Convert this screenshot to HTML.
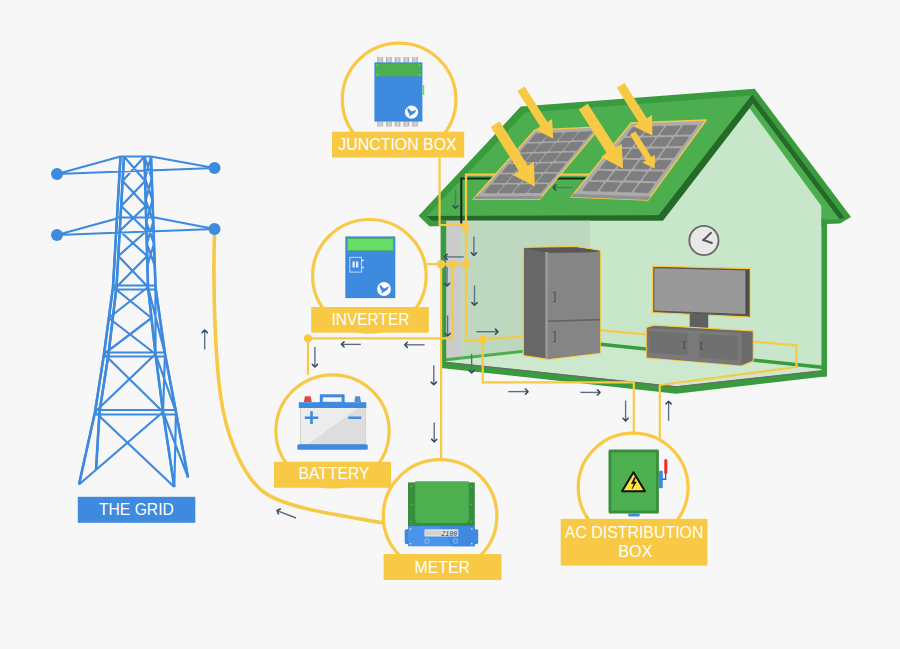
<!DOCTYPE html>
<html><head><meta charset="utf-8"><style>html,body{margin:0;padding:0;background:#f7f7f7;}svg{display:block;}</style></head>
<body><svg width="900" height="649" viewBox="0 0 900 649">
<rect width="900" height="649" fill="#f7f7f7"/>
<path d="M214.5 234 C 212.5 300, 216 375, 223 410 C 229 440, 243 476, 263 491.5 C 283 507, 330 514, 384 523" stroke="#f8c945" stroke-width="3.6" fill="none"/>
<path d="M120.5 156.5 L113 287 L104 354 L95 412 L79 484.5 M124 156.5 L116.5 287 L108.5 354 L99.5 412 L96 470 M144.5 156.5 L148 287 L155.5 354 L163 412 L174.3 487 M151 156.5 L155.5 287 L165 354 L176 412 L188 477.4 M120.5 156.5 L151 156.5 M57 174 L120.5 156.5 M151 156.5 L214.5 168 M57 174 L214.5 168 M57 235 L117 218.5 M152 217 L214.5 229 M57 235 L214.5 229 M118 217.5 L152 217.5 M113 285.5 L155.5 285.5 M113 289.5 L155.5 289.5 M104 352.5 L165 352.5 M104 356.5 L165 356.5 M95 410 L176 410 M95 414.5 L176 414.5 M124 156.5 L145.2 181 M144.5 156.5 L122.6 181 M122.6 181 L145.8 206 M145.2 181 L121.2 206 M121.2 206 L146.5 231 M145.8 206 L119.7 231 M119.7 231 L147.2 256 M146.5 231 L118.3 256 M118.3 256 L148 287 M147.2 256 L116.5 287 M113 287 L151.5 318 M148 287 L108.8 318 M108.8 318 L155.5 354 M151.5 318 L104 354 M104 354 L163 412 M155.5 354 L95 412 M95 412 L174.3 487 M163 412 L79 484.5 M144.5 156.5 L151.8 178.3 L145.7 200.1 L153.3 221.9 L146.8 243.7 L154.8 265.5 M151 156.5 L145.1 178.3 L152.5 200.1 L146.3 221.9 L154 243.7 L147.4 265.5 M148 287 L165 354 M155.5 287 L155.5 354 M155.5 354 L176 412 M165 354 L163 412 M163 412 L188 477.4 M176 412 L174.3 487" stroke="#3d8ade" stroke-width="2.2" fill="none" stroke-linejoin="round"/>
<path d="M120.5 156.5 L113 287 L104 354 L95 412 L79 484.5 M124 156.5 L116.5 287 L108.5 354 L99.5 412 L96 470 M144.5 156.5 L148 287 L155.5 354 L163 412 L174.3 487 M151 156.5 L155.5 287 L165 354 L176 412 L188 477.4" stroke="#3d8ade" stroke-width="2.6" fill="none" stroke-linejoin="round"/>
<circle cx="57" cy="174" r="6" fill="#3d8ade"/>
<circle cx="214.5" cy="168" r="6" fill="#3d8ade"/>
<circle cx="57" cy="235" r="6" fill="#3d8ade"/>
<circle cx="214.5" cy="229" r="6" fill="#3d8ade"/>
<polygon points="418.6,215.7 520.8,106.6 754.7,88.8 851,217 840,223.6 827,223.9 827,226.2 429.4,226.2" fill="#3a9a3e"/>
<polygon points="426.7,216 525.5,112.4 751.4,95.5 658.6,215.5" fill="#4cae4f"/>
<polygon points="426.7,216 658.6,215.2 751.4,95.6 752.4,94.8 844.5,217.8 839.3,219 752.8,103.6 749.6,108.2 663,220.8 431.8,220.8" fill="#256a29"/>
<polygon points="752.8,103.6 839.3,219 838.5,219.2 822,219.6 821.4,206 749.6,108.2" fill="#4cae4f"/>
<polygon points="441,220.8 663,220.8 749.6,108.2 821.4,206 821.4,376 676.4,393 441,363" fill="#c8e6c9"/>
<polygon points="461.5,220.8 590,220.8 590,344 461.5,358.5" fill="#bed8bf"/>
<polygon points="446,220.8 461.5,220.8 461.5,358.5 446,360.5" fill="#cbcbcb"/>
<polygon points="446,360 600,343 822,365.7 822,370.6 676.3,386.8 446,362.3" fill="#cde9cd"/>
<polyline points="446,359.8 600,342.8" stroke="#4cae4f" stroke-width="3" fill="none"/>
<polyline points="598,344 822,367.2" stroke="#3a9a3e" stroke-width="3.4" fill="none"/>
<polygon points="441,361.5 676.3,386.3 827,370 827,376.2 676.3,393.8 441,368" fill="#3a9a3e"/>
<polyline points="446,362.4 676.3,386.8 821.5,370.8" stroke="#6b6b6b" stroke-width="1.3" fill="none"/>
<rect x="440.6" y="220.8" width="5.6" height="145" fill="#3a9a3e"/>
<rect x="821.4" y="219.5" width="5.6" height="157" fill="#3a9a3e"/>
<polyline points="439.6,157.8 439.6,225 466,225" stroke="#f8c945" stroke-width="2.2" fill="none"/>
<polyline points="461.3,223.4 461.3,178.6 600,178.6" stroke="#222" stroke-width="2" fill="none"/>
<polyline points="466,227 466,174.6 600,174.6" stroke="#f8c945" stroke-width="2.2" fill="none"/>
<polygon points="535,129.8 600.5,126.9 539.5,199.3 473.2,199.3" fill="#acacac" stroke="#f8c945" stroke-width="1.3" stroke-linejoin="round"/>
<polygon points="476,196.2 542.2,196 539.5,199.3 473.2,199.3" fill="#929292"/>
<polygon points="536.2,132.8 594.5,130.3 540.8,193.9 481.8,194.1" fill="#a8a8a8"/>
<polygon points="536.4,134.5 547.3,134 541.4,140.7 530.5,141.1" fill="#7e7e7e" stroke="#7e7e7e" stroke-width="2" stroke-linejoin="round"/>
<polygon points="527.4,144.7 538.3,144.3 532.4,151 521.5,151.4" fill="#7e7e7e" stroke="#7e7e7e" stroke-width="2" stroke-linejoin="round"/>
<polygon points="518.3,154.9 529.2,154.6 523.3,161.3 512.4,161.6" fill="#7e7e7e" stroke="#7e7e7e" stroke-width="2" stroke-linejoin="round"/>
<polygon points="509.3,165.2 520.2,164.9 514.3,171.6 503.4,171.8" fill="#7e7e7e" stroke="#7e7e7e" stroke-width="2" stroke-linejoin="round"/>
<polygon points="500.2,175.4 511.2,175.2 505.3,181.9 494.3,182.1" fill="#7e7e7e" stroke="#7e7e7e" stroke-width="2" stroke-linejoin="round"/>
<polygon points="491.2,185.6 502.1,185.5 496.2,192.2 485.3,192.3" fill="#7e7e7e" stroke="#7e7e7e" stroke-width="2" stroke-linejoin="round"/>
<polygon points="551,133.9 561.9,133.4 556,140.2 545.1,140.6" fill="#7e7e7e" stroke="#7e7e7e" stroke-width="2" stroke-linejoin="round"/>
<polygon points="542,144.2 552.9,143.8 547,150.6 536.1,150.9" fill="#7e7e7e" stroke="#7e7e7e" stroke-width="2" stroke-linejoin="round"/>
<polygon points="533,154.5 543.9,154.2 538,161 527.1,161.2" fill="#7e7e7e" stroke="#7e7e7e" stroke-width="2" stroke-linejoin="round"/>
<polygon points="523.9,164.8 534.9,164.6 529,171.4 518.1,171.6" fill="#7e7e7e" stroke="#7e7e7e" stroke-width="2" stroke-linejoin="round"/>
<polygon points="514.9,175.2 525.8,175 520,181.8 509,181.9" fill="#7e7e7e" stroke="#7e7e7e" stroke-width="2" stroke-linejoin="round"/>
<polygon points="505.9,185.5 516.8,185.4 511,192.2 500,192.2" fill="#7e7e7e" stroke="#7e7e7e" stroke-width="2" stroke-linejoin="round"/>
<polygon points="565.6,133.3 576.5,132.8 570.6,139.7 559.7,140.1" fill="#7e7e7e" stroke="#7e7e7e" stroke-width="2" stroke-linejoin="round"/>
<polygon points="556.6,143.7 567.5,143.3 561.6,150.1 550.7,150.5" fill="#7e7e7e" stroke="#7e7e7e" stroke-width="2" stroke-linejoin="round"/>
<polygon points="547.6,154.1 558.5,153.8 552.6,160.6 541.7,160.9" fill="#7e7e7e" stroke="#7e7e7e" stroke-width="2" stroke-linejoin="round"/>
<polygon points="538.6,164.5 549.5,164.3 543.7,171.1 532.7,171.3" fill="#7e7e7e" stroke="#7e7e7e" stroke-width="2" stroke-linejoin="round"/>
<polygon points="529.6,174.9 540.5,174.8 534.7,181.6 523.7,181.7" fill="#7e7e7e" stroke="#7e7e7e" stroke-width="2" stroke-linejoin="round"/>
<polygon points="520.6,185.4 531.6,185.3 525.7,192.1 514.7,192.2" fill="#7e7e7e" stroke="#7e7e7e" stroke-width="2" stroke-linejoin="round"/>
<polygon points="580.2,132.7 591.1,132.2 585.2,139.1 574.3,139.5" fill="#7e7e7e" stroke="#7e7e7e" stroke-width="2" stroke-linejoin="round"/>
<polygon points="571.2,143.2 582.1,142.8 576.3,149.7 565.4,150" fill="#7e7e7e" stroke="#7e7e7e" stroke-width="2" stroke-linejoin="round"/>
<polygon points="562.3,153.7 573.1,153.4 567.3,160.3 556.4,160.5" fill="#7e7e7e" stroke="#7e7e7e" stroke-width="2" stroke-linejoin="round"/>
<polygon points="553.3,164.2 564.2,164 558.3,170.9 547.4,171.1" fill="#7e7e7e" stroke="#7e7e7e" stroke-width="2" stroke-linejoin="round"/>
<polygon points="544.3,174.7 555.2,174.6 549.4,181.5 538.4,181.6" fill="#7e7e7e" stroke="#7e7e7e" stroke-width="2" stroke-linejoin="round"/>
<polygon points="535.3,185.2 546.3,185.1 540.4,192 529.5,192.1" fill="#7e7e7e" stroke="#7e7e7e" stroke-width="2" stroke-linejoin="round"/>
<polygon points="631.1,123 706.2,120 648.1,200.1 571,197.1" fill="#acacac" stroke="#f8c945" stroke-width="1.3" stroke-linejoin="round"/>
<polygon points="573.7,193.8 650.7,196.5 648.1,200.1 571,197.1" fill="#929292"/>
<polygon points="632.9,126.2 699.8,123.7 648.6,194 580.1,191.7" fill="#a8a8a8"/>
<polygon points="633.5,128 646,127.6 640.3,134.8 627.8,135.1" fill="#7e7e7e" stroke="#7e7e7e" stroke-width="2" stroke-linejoin="round"/>
<polygon points="624.7,138.9 637.2,138.7 631.5,145.9 619,146.1" fill="#7e7e7e" stroke="#7e7e7e" stroke-width="2" stroke-linejoin="round"/>
<polygon points="615.9,149.9 628.5,149.8 622.8,157 610.2,157" fill="#7e7e7e" stroke="#7e7e7e" stroke-width="2" stroke-linejoin="round"/>
<polygon points="607.2,160.8 619.8,160.8 614.1,168.1 601.4,168" fill="#7e7e7e" stroke="#7e7e7e" stroke-width="2" stroke-linejoin="round"/>
<polygon points="598.4,171.8 611,171.9 605.3,179.2 592.6,178.9" fill="#7e7e7e" stroke="#7e7e7e" stroke-width="2" stroke-linejoin="round"/>
<polygon points="589.6,182.7 602.3,183 596.6,190.3 583.8,189.9" fill="#7e7e7e" stroke="#7e7e7e" stroke-width="2" stroke-linejoin="round"/>
<polygon points="650.3,127.4 662.7,127 657.1,134.4 644.6,134.7" fill="#7e7e7e" stroke="#7e7e7e" stroke-width="2" stroke-linejoin="round"/>
<polygon points="641.5,138.6 654,138.3 648.4,145.6 635.8,145.8" fill="#7e7e7e" stroke="#7e7e7e" stroke-width="2" stroke-linejoin="round"/>
<polygon points="632.8,149.7 645.4,149.6 639.7,156.9 627.1,157" fill="#7e7e7e" stroke="#7e7e7e" stroke-width="2" stroke-linejoin="round"/>
<polygon points="624.1,160.8 636.7,160.9 631,168.2 618.4,168.1" fill="#7e7e7e" stroke="#7e7e7e" stroke-width="2" stroke-linejoin="round"/>
<polygon points="615.4,172 628,172.1 622.4,179.5 609.7,179.3" fill="#7e7e7e" stroke="#7e7e7e" stroke-width="2" stroke-linejoin="round"/>
<polygon points="606.6,183.1 619.3,183.4 613.7,190.8 601,190.4" fill="#7e7e7e" stroke="#7e7e7e" stroke-width="2" stroke-linejoin="round"/>
<polygon points="667,126.9 679.5,126.4 673.8,133.9 661.4,134.2" fill="#7e7e7e" stroke="#7e7e7e" stroke-width="2" stroke-linejoin="round"/>
<polygon points="658.3,138.2 670.8,137.9 665.2,145.4 652.7,145.6" fill="#7e7e7e" stroke="#7e7e7e" stroke-width="2" stroke-linejoin="round"/>
<polygon points="649.7,149.5 662.2,149.4 656.6,156.9 644,156.9" fill="#7e7e7e" stroke="#7e7e7e" stroke-width="2" stroke-linejoin="round"/>
<polygon points="641,160.9 653.6,160.9 648,168.4 635.4,168.3" fill="#7e7e7e" stroke="#7e7e7e" stroke-width="2" stroke-linejoin="round"/>
<polygon points="632.4,172.2 645,172.4 639.4,179.8 626.7,179.6" fill="#7e7e7e" stroke="#7e7e7e" stroke-width="2" stroke-linejoin="round"/>
<polygon points="623.7,183.5 636.4,183.8 630.8,191.3 618.1,190.9" fill="#7e7e7e" stroke="#7e7e7e" stroke-width="2" stroke-linejoin="round"/>
<polygon points="683.7,126.3 696.2,125.9 690.6,133.5 678.1,133.8" fill="#7e7e7e" stroke="#7e7e7e" stroke-width="2" stroke-linejoin="round"/>
<polygon points="675.1,137.8 687.7,137.5 682.1,145.1 669.5,145.3" fill="#7e7e7e" stroke="#7e7e7e" stroke-width="2" stroke-linejoin="round"/>
<polygon points="666.6,149.3 679.1,149.2 673.5,156.8 661,156.9" fill="#7e7e7e" stroke="#7e7e7e" stroke-width="2" stroke-linejoin="round"/>
<polygon points="658,160.9 670.6,160.9 665,168.5 652.4,168.4" fill="#7e7e7e" stroke="#7e7e7e" stroke-width="2" stroke-linejoin="round"/>
<polygon points="649.4,172.4 662,172.6 656.4,180.2 643.8,179.9" fill="#7e7e7e" stroke="#7e7e7e" stroke-width="2" stroke-linejoin="round"/>
<polygon points="640.8,183.9 653.5,184.2 647.9,191.9 635.2,191.5" fill="#7e7e7e" stroke="#7e7e7e" stroke-width="2" stroke-linejoin="round"/>
<polygon points="517.3,91.1 540.2,126.6 535.6,129.6 553.2,138.8 552.1,118.9 547.4,121.9 524.6,86.4" fill="#f8c945"/>
<polygon points="490.7,126.9 518.9,171.2 512.9,175 534.9,186.5 533.8,161.7 527.8,165.5 499.6,121.2" fill="#f8c945"/>
<polygon points="578.8,109.4 606.9,153.2 601,157 623,168.4 621.7,143.7 615.8,147.4 587.7,103.7" fill="#f8c945"/>
<polygon points="616.8,87.7 639.2,123.1 634,126.4 652.4,135.6 652,115 646.8,118.3 624.4,82.8" fill="#f8c945"/>
<polygon points="630,134.5 645.9,160.4 642.3,162.6 654.6,168.5 654.9,154.8 651.3,157 635.4,131.2" fill="#f8c945"/>
<circle cx="703.9" cy="240.5" r="14.6" fill="#e8e8e8" stroke="#6a6a6a" stroke-width="1.9"/>
<path d="M711 232.7 L703.5 240 L711.9 243" stroke="#555" stroke-width="2" fill="none" stroke-linecap="round" stroke-linejoin="round"/>
<circle cx="703.5" cy="240" r="1.3" fill="#555"/>
<polyline points="466,227 466,341.4 482.7,339.4 600,330.2 646,334.5 753,341.6 796.5,345.3 796.5,367 659.8,385 659.8,441" stroke="#f8c945" stroke-width="2.2" fill="none" stroke-linejoin="round"/>
<polyline points="482.7,339.4 482.7,382.4 633.8,382.4 633.8,434" stroke="#f8c945" stroke-width="2.2" fill="none"/>
<polygon points="523.3,247.4 576,246.6 600.2,250.4 600.2,353.1 548.3,359.3 523.3,355.6" fill="#676767" stroke="#f8c945" stroke-width="1.2" stroke-linejoin="round"/>
<polygon points="547.2,252.5 598,251.5 600,251 600,352.8 548,359" fill="#858585"/>
<polygon points="524,248 576,247.2 599.6,250.8 593,252.3 547,253" fill="#585858"/>
<rect x="545.3" y="252" width="2.6" height="107" fill="#9a9a9a"/>
<polyline points="548,321.3 600,319.6" stroke="#646464" stroke-width="1.6"/>
<path d="M553.2 292.3h1.8v9.4h-1.8M553.2 331.8h1.8v9.8h-1.8" stroke="#505050" stroke-width="1.2" fill="none"/>
<polygon points="652.7,266.2 749.8,268.6 749.8,317.1 652.7,312.5" fill="#585858" stroke="#f8c945" stroke-width="1.2"/>
<polygon points="654.4,268.2 745.6,270.6 745.6,314 654.4,310.6" fill="#999"/>
<polygon points="745.6,270.6 749.6,268.8 749.6,316.9 745.6,314" fill="#4e4e4e"/>
<rect x="689.7" y="314" width="18.5" height="14.7" fill="#606060"/>
<polygon points="646.5,327.5 653.9,325.2 753.3,331 753.3,361 741.7,365.7 646.5,357.6" fill="#6b6b6b" stroke="#f8c945" stroke-width="1.2"/>
<polygon points="646.8,328 741.7,333 741.7,365.4 646.8,357.4" fill="#7a7a7a"/>
<polygon points="648.5,331 687.5,333 687.5,355.5 648.5,352.5" fill="#707070"/>
<polygon points="699,334 737.5,336 737.5,360.5 699,357.5" fill="#707070"/>
<path d="M685.5 341.5h-1.5v7h1.5M702.5 342.5h-1.5v7h1.5" stroke="#444" stroke-width="1" fill="none"/>
<polyline points="427,264.2 466,264.2" stroke="#f8c945" stroke-width="2.2" fill="none"/>
<polyline points="441.1,264.2 441.1,458" stroke="#f8c945" stroke-width="2.2" fill="none"/>
<polyline points="452.8,264.2 452.8,338.4 308,338.4 308,375" stroke="#f8c945" stroke-width="2.2" fill="none"/>
<circle cx="465" cy="227" r="4.2" fill="#f8c945"/>
<circle cx="441.1" cy="264.2" r="4.2" fill="#f8c945"/>
<circle cx="452.8" cy="264.2" r="4.2" fill="#f8c945"/>
<circle cx="466" cy="264.2" r="4.2" fill="#f8c945"/>
<circle cx="482.7" cy="339.4" r="4.2" fill="#f8c945"/>
<circle cx="308" cy="338.4" r="4.2" fill="#f8c945"/>
<ellipse cx="399.1" cy="99.5" rx="56.8" ry="56.3" fill="none" stroke="#f8c945" stroke-width="3.2"/>
<ellipse cx="369.4" cy="275.8" rx="56.8" ry="56.3" fill="none" stroke="#f8c945" stroke-width="3.2"/>
<ellipse cx="332.5" cy="430.9" rx="56.6" ry="56.1" fill="none" stroke="#f8c945" stroke-width="3.2"/>
<ellipse cx="440.1" cy="515.9" rx="56.8" ry="56.3" fill="none" stroke="#f8c945" stroke-width="3.2"/>
<ellipse cx="633.1" cy="487.6" rx="54.9" ry="54.4" fill="none" stroke="#f8c945" stroke-width="3.2"/>
<rect x="377.3" y="57" width="5.8" height="5.6" fill="#b5b5b5"/>
<rect x="378.6" y="57" width="3.2" height="5.6" fill="#d0d0d0"/>
<rect x="377.3" y="121.5" width="5.8" height="5" fill="#b5b5b5"/>
<rect x="378.6" y="121.5" width="3.2" height="5" fill="#d0d0d0"/>
<rect x="386" y="57" width="5.8" height="5.6" fill="#b5b5b5"/>
<rect x="387.3" y="57" width="3.2" height="5.6" fill="#d0d0d0"/>
<rect x="386" y="121.5" width="5.8" height="5" fill="#b5b5b5"/>
<rect x="387.3" y="121.5" width="3.2" height="5" fill="#d0d0d0"/>
<rect x="394.7" y="57" width="5.8" height="5.6" fill="#b5b5b5"/>
<rect x="396" y="57" width="3.2" height="5.6" fill="#d0d0d0"/>
<rect x="394.7" y="121.5" width="5.8" height="5" fill="#b5b5b5"/>
<rect x="396" y="121.5" width="3.2" height="5" fill="#d0d0d0"/>
<rect x="403.4" y="57" width="5.8" height="5.6" fill="#b5b5b5"/>
<rect x="404.7" y="57" width="3.2" height="5.6" fill="#d0d0d0"/>
<rect x="403.4" y="121.5" width="5.8" height="5" fill="#b5b5b5"/>
<rect x="404.7" y="121.5" width="3.2" height="5" fill="#d0d0d0"/>
<rect x="412.1" y="57" width="5.8" height="5.6" fill="#b5b5b5"/>
<rect x="413.4" y="57" width="3.2" height="5.6" fill="#d0d0d0"/>
<rect x="412.1" y="121.5" width="5.8" height="5" fill="#b5b5b5"/>
<rect x="413.4" y="121.5" width="3.2" height="5" fill="#d0d0d0"/>
<rect x="374.4" y="62.4" width="48" height="59.2" fill="#3d8ade"/>
<rect x="375.6" y="63.6" width="45.4" height="12.8" fill="#4caf50"/>
<circle cx="377.4" cy="65.3" r="0.75" fill="#8ee28e"/>
<circle cx="419.3" cy="65.3" r="0.75" fill="#8ee28e"/>
<circle cx="377.4" cy="74.8" r="0.75" fill="#8ee28e"/>
<circle cx="419.3" cy="74.8" r="0.75" fill="#8ee28e"/>
<rect x="422.4" y="85" width="1.8" height="10" fill="#6ddc6d"/>
<circle cx="411.5" cy="112.2" r="6.6" fill="#fff"/>
<path transform="translate(411.5,112.2) scale(0.971)" d="M-4.3 -4.8 C-2.6 -3.6,-1.2 -1.8,0 -0.6 L5 -2.6 C3.8 0.8,1.8 2.6,-0.3 2.9 L-2.6 4.6 L-2.1 2.2 C-3.6 0.2,-4.4 -2,-4.3 -4.8Z" fill="#3d8ade"/>
<rect x="345.3" y="236.4" width="50" height="61.7" fill="#3d8ade"/>
<rect x="347.3" y="238.6" width="46" height="12.1" fill="#69dd69" stroke="#4caf50" stroke-width="0.8"/>
<rect x="349.8" y="257.3" width="11.6" height="14.8" fill="none" stroke="#cfe3f7" stroke-width="0.9"/>
<rect x="352.5" y="261.5" width="2.3" height="6" fill="#e8f1fb"/><rect x="356" y="261.5" width="2.3" height="6" fill="#e8f1fb"/>
<path d="M361.5 260.5h2.5M361.5 267.5h2.5" stroke="#cfe3f7" stroke-width="1.5"/>
<circle cx="384" cy="289" r="6.9" fill="#fff"/>
<path transform="translate(384,289) scale(1.015)" d="M-4.3 -4.8 C-2.6 -3.6,-1.2 -1.8,0 -0.6 L5 -2.6 C3.8 0.8,1.8 2.6,-0.3 2.9 L-2.6 4.6 L-2.1 2.2 C-3.6 0.2,-4.4 -2,-4.3 -4.8Z" fill="#3d8ade"/>
<rect x="321.3" y="395.8" width="21.8" height="7.5" fill="none" stroke="#3d8ade" stroke-width="3"/>
<polygon points="303.8,402 311.8,402 310.6,396.3 305,396.3" fill="#e5473a"/>
<polygon points="354.3,402 361,402 360,396.3 355.3,396.3" fill="#4a90dc"/>
<rect x="300.3" y="407.5" width="65.2" height="37" fill="#ececec" stroke="#c4c4c4" stroke-width="0.7"/>
<polygon points="358,408 365.2,408 365.2,444 308.5,444" fill="#dedcdc"/>
<rect x="298.8" y="402.2" width="67.5" height="5.8" fill="#3d8ade"/>
<rect x="297.3" y="444.2" width="70.5" height="5.6" rx="1.6" fill="#3d8ade"/>
<path d="M304.8 417.7h13.5M311.5 411.2v12.9M348.3 417.7h13" stroke="#3d8ade" stroke-width="2.6"/>
<rect x="408" y="482.4" width="66.8" height="44" fill="#388e3c"/>
<path d="M415.2 481.3h53.6v37.8a4 4 0 0 1 -4 4h-45.6a4 4 0 0 1 -4 -4z" fill="#4caf50"/>
<circle cx="411.5" cy="504.3" r="0.7" fill="#5fc063"/>
<circle cx="471.3" cy="504.3" r="0.7" fill="#5fc063"/>
<circle cx="411.5" cy="521.8" r="0.7" fill="#5fc063"/>
<circle cx="471.3" cy="521.8" r="0.7" fill="#5fc063"/>
<circle cx="411.5" cy="486.5" r="0.7" fill="#5fc063"/>
<circle cx="471.3" cy="486.5" r="0.7" fill="#5fc063"/>
<rect x="404.7" y="529.3" width="73.5" height="14.8" rx="1.5" fill="#3d8ade"/>
<rect x="408" y="526" width="66.8" height="20.3" fill="#4a95ea"/>
<polygon points="440,526 474.8,526 474.8,546.3 452,546.3" fill="#3f8ae0"/>
<rect x="424.5" y="529.3" width="33.8" height="7.2" fill="#e6e6e6"/>
<rect x="425.5" y="530.5" width="16" height="4.8" fill="#d2d2d2"/>
<text x="441.2" y="535.6" font-family="Liberation Mono, monospace" font-style="italic" font-size="7.6" fill="#333" textLength="16" lengthAdjust="spacingAndGlyphs">2100</text>
<rect x="424.9" y="538.9" width="3.8" height="4.2" rx="1" fill="none" stroke="#a9c8ee" stroke-width="0.8"/>
<rect x="453.6" y="538.9" width="3.8" height="4.2" rx="1" fill="none" stroke="#a9c8ee" stroke-width="0.8"/>
<circle cx="410.5" cy="529" r="0.8" fill="#e8f1fb"/>
<circle cx="471.8" cy="529" r="0.8" fill="#e8f1fb"/>
<circle cx="410.5" cy="543.7" r="0.8" fill="#e8f1fb"/>
<circle cx="471.8" cy="543.7" r="0.8" fill="#e8f1fb"/>
<rect x="608.5" y="449.6" width="50.4" height="64" rx="1.5" fill="#388e3c"/>
<rect x="611.3" y="452.4" width="44.8" height="58.2" fill="#4caf50"/>
<polygon points="633.5,472.2 645,491.2 622,491.2" fill="#ffe53b" stroke="#111" stroke-width="2" stroke-linejoin="round"/>
<path d="M634.6 477.2 L631.4 483.6 L633.9 483.6 L632.2 488.8 L636.4 481.9 L633.8 481.9 L635.6 477.2Z" fill="#111" stroke="#111" stroke-width="0.5"/>
<rect x="658.9" y="470.8" width="3.9" height="17.4" rx="1.2" fill="#3d8ade"/>
<path d="M662 479.3h3.6v-6" stroke="#3a65a8" stroke-width="1.4" fill="none"/>
<path d="M665.8 472.5v-12" stroke="#ee2a2a" stroke-width="3" stroke-linecap="round"/>
<rect x="628.2" y="513.6" width="11.5" height="2.8" rx="1" fill="#3d8ade"/>
<rect x="332" y="131.7" width="132.2" height="25.8" fill="#f8c945"/>
<text x="338.3" y="150" font-size="16" font-family="Liberation Sans, sans-serif" fill="#fff" textLength="118.4" lengthAdjust="spacingAndGlyphs">JUNCTION BOX</text>
<rect x="311.2" y="307" width="117.6" height="25.7" fill="#f8c945"/>
<text x="331.4" y="325.2" font-size="16" font-family="Liberation Sans, sans-serif" fill="#fff" textLength="78.1" lengthAdjust="spacingAndGlyphs">INVERTER</text>
<rect x="274" y="461.8" width="117" height="25.9" fill="#f8c945"/>
<text x="298.6" y="479" font-size="16" font-family="Liberation Sans, sans-serif" fill="#fff" textLength="70.8" lengthAdjust="spacingAndGlyphs">BATTERY</text>
<rect x="383.6" y="554" width="117.9" height="26" fill="#f8c945"/>
<text x="414.6" y="572.8" font-size="16" font-family="Liberation Sans, sans-serif" fill="#fff" textLength="55.4" lengthAdjust="spacingAndGlyphs">METER</text>
<rect x="560.7" y="518.9" width="146.7" height="46.7" fill="#f8c945"/>
<text x="564.8" y="537.9" font-size="16" font-family="Liberation Sans, sans-serif" fill="#fff" textLength="138.6" lengthAdjust="spacingAndGlyphs">AC DISTRIBUTION</text>
<text x="618.2" y="557.1" font-size="16" font-family="Liberation Sans, sans-serif" fill="#fff" textLength="34.3" lengthAdjust="spacingAndGlyphs">BOX</text>
<rect x="77.8" y="496.8" width="117.5" height="26" fill="#3d8ade"/>
<text x="99" y="514.8" font-size="16" font-family="Liberation Sans, sans-serif" fill="#fff" textLength="74.8" lengthAdjust="spacingAndGlyphs">THE GRID</text>
<path d="M455.5 190L455.5 207.5" stroke="#566d84" stroke-width="1.35" fill="none" stroke-linecap="butt"/>
<path d="M458.1 205.7L455.5 208.3L452.9 205.7" stroke="#34495e" stroke-width="1.5" fill="none" stroke-linecap="round" stroke-linejoin="round"/>
<path d="M572.8 187.5L554 187.5" stroke="#566d84" stroke-width="1.35" fill="none" stroke-linecap="butt"/>
<path d="M555.8 190.1L553.2 187.5L555.8 184.9" stroke="#34495e" stroke-width="1.5" fill="none" stroke-linecap="round" stroke-linejoin="round"/>
<path d="M473.9 236.4L473.9 254.6" stroke="#566d84" stroke-width="1.35" fill="none" stroke-linecap="butt"/>
<path d="M476.5 252.8L473.9 255.4L471.3 252.8" stroke="#34495e" stroke-width="1.5" fill="none" stroke-linecap="round" stroke-linejoin="round"/>
<path d="M463.7 256.9L445.4 256.9" stroke="#566d84" stroke-width="1.35" fill="none" stroke-linecap="butt"/>
<path d="M447.2 259.5L444.6 256.9L447.2 254.3" stroke="#34495e" stroke-width="1.5" fill="none" stroke-linecap="round" stroke-linejoin="round"/>
<path d="M447 267L447 285.2" stroke="#566d84" stroke-width="1.35" fill="none" stroke-linecap="butt"/>
<path d="M449.6 283.4L447 286L444.4 283.4" stroke="#34495e" stroke-width="1.5" fill="none" stroke-linecap="round" stroke-linejoin="round"/>
<path d="M474.5 285.5L474.5 304.4" stroke="#566d84" stroke-width="1.35" fill="none" stroke-linecap="butt"/>
<path d="M477.1 302.6L474.5 305.2L471.9 302.6" stroke="#34495e" stroke-width="1.5" fill="none" stroke-linecap="round" stroke-linejoin="round"/>
<path d="M447.6 315.4L447.6 335.2" stroke="#566d84" stroke-width="1.35" fill="none" stroke-linecap="butt"/>
<path d="M450.2 333.4L447.6 336L445 333.4" stroke="#34495e" stroke-width="1.5" fill="none" stroke-linecap="round" stroke-linejoin="round"/>
<path d="M476.3 331.7L497.2 331.7" stroke="#566d84" stroke-width="1.35" fill="none" stroke-linecap="butt"/>
<path d="M495.4 329.1L498 331.7L495.4 334.3" stroke="#34495e" stroke-width="1.5" fill="none" stroke-linecap="round" stroke-linejoin="round"/>
<path d="M360.8 344.4L342.3 344.4" stroke="#566d84" stroke-width="1.35" fill="none" stroke-linecap="butt"/>
<path d="M344.1 347L341.5 344.4L344.1 341.8" stroke="#34495e" stroke-width="1.5" fill="none" stroke-linecap="round" stroke-linejoin="round"/>
<path d="M424.5 344.8L405.5 344.8" stroke="#566d84" stroke-width="1.35" fill="none" stroke-linecap="butt"/>
<path d="M407.3 347.4L404.7 344.8L407.3 342.2" stroke="#34495e" stroke-width="1.5" fill="none" stroke-linecap="round" stroke-linejoin="round"/>
<path d="M314.9 347L314.9 366.2" stroke="#566d84" stroke-width="1.35" fill="none" stroke-linecap="butt"/>
<path d="M317.5 364.4L314.9 367L312.3 364.4" stroke="#34495e" stroke-width="1.5" fill="none" stroke-linecap="round" stroke-linejoin="round"/>
<path d="M471.6 353.9L471.6 372.2" stroke="#566d84" stroke-width="1.35" fill="none" stroke-linecap="butt"/>
<path d="M474.2 370.4L471.6 373L469 370.4" stroke="#34495e" stroke-width="1.5" fill="none" stroke-linecap="round" stroke-linejoin="round"/>
<path d="M433.8 365.3L433.8 383.9" stroke="#566d84" stroke-width="1.35" fill="none" stroke-linecap="butt"/>
<path d="M436.4 382.1L433.8 384.7L431.2 382.1" stroke="#34495e" stroke-width="1.5" fill="none" stroke-linecap="round" stroke-linejoin="round"/>
<path d="M434.2 422.5L434.2 441.1" stroke="#566d84" stroke-width="1.35" fill="none" stroke-linecap="butt"/>
<path d="M436.8 439.3L434.2 441.9L431.6 439.3" stroke="#34495e" stroke-width="1.5" fill="none" stroke-linecap="round" stroke-linejoin="round"/>
<path d="M508.2 391.6L527.2 391.6" stroke="#566d84" stroke-width="1.35" fill="none" stroke-linecap="butt"/>
<path d="M525.4 389L528 391.6L525.4 394.2" stroke="#34495e" stroke-width="1.5" fill="none" stroke-linecap="round" stroke-linejoin="round"/>
<path d="M580.4 392.4L599.2 392.4" stroke="#566d84" stroke-width="1.35" fill="none" stroke-linecap="butt"/>
<path d="M597.4 389.8L600 392.4L597.4 395" stroke="#34495e" stroke-width="1.5" fill="none" stroke-linecap="round" stroke-linejoin="round"/>
<path d="M625.6 400.6L625.6 420.1" stroke="#566d84" stroke-width="1.35" fill="none" stroke-linecap="butt"/>
<path d="M628.2 418.3L625.6 420.9L623 418.3" stroke="#34495e" stroke-width="1.5" fill="none" stroke-linecap="round" stroke-linejoin="round"/>
<path d="M668.6 420.9L668.6 402.1" stroke="#566d84" stroke-width="1.35" fill="none" stroke-linecap="butt"/>
<path d="M666 403.9L668.6 401.3L671.2 403.9" stroke="#34495e" stroke-width="1.5" fill="none" stroke-linecap="round" stroke-linejoin="round"/>
<path d="M204.7 349.4L204.7 330.8" stroke="#566d84" stroke-width="1.35" fill="none" stroke-linecap="butt"/>
<path d="M202.1 332.6L204.7 330L207.3 332.6" stroke="#34495e" stroke-width="1.5" fill="none" stroke-linecap="round" stroke-linejoin="round"/>
<path d="M296 518L277.7 510.8" stroke="#566d84" stroke-width="1.35" fill="none" stroke-linecap="butt"/>
<path d="M278.5 513.9L277 510.5L280.4 509" stroke="#34495e" stroke-width="1.5" fill="none" stroke-linecap="round" stroke-linejoin="round"/>
</svg></body></html>
